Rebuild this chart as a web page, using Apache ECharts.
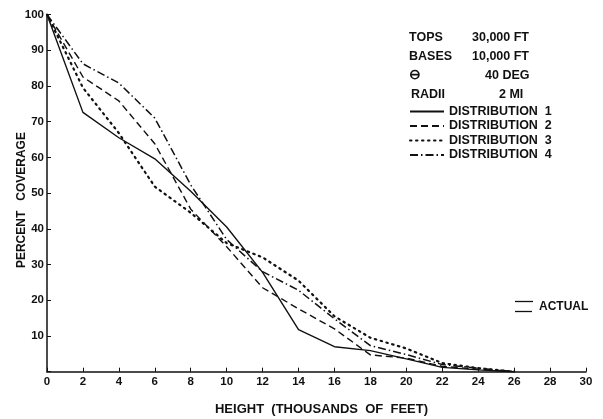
<!DOCTYPE html>
<html><head><meta charset="utf-8">
<script src="https://cdn.jsdelivr.net/npm/echarts@6/dist/echarts.min.js"></script>
<style>html,body{margin:0;padding:0;background:#fff}#c{width:603px;height:419px}</style>
</head><body><div id="c"></div>
<script>
var heights = [0, 2, 4, 6, 8, 10, 12, 14, 16, 18, 20, 22, 24, 26];
var dist1 = [100, 72.6, 65.5, 59.6, 50.5, 40.5, 27.8, 11.8, 7.0, 5.9, 3.6, 1.2, 0.5, 0];
var dist2 = [100, 82.5, 75.8, 63.8, 45.5, 35.0, 23.5, 17.6, 12.0, 4.7, 3.8, 1.5, 0.7, 0];
var dist3 = [100, 79.5, 66.8, 51.8, 44.5, 36.0, 32.0, 25.5, 15.5, 9.5, 6.5, 2.4, 1.0, 0];
var dist4 = [100, 86.2, 80.8, 71.0, 52.3, 37.0, 28.0, 22.8, 14.8, 7.3, 4.8, 2.0, 1.0, 0];
var seriesNames = ['DISTRIBUTION  1', 'DISTRIBUTION  2', 'DISTRIBUTION  3', 'DISTRIBUTION  4'];
var xTicks = [0, 2, 4, 6, 8, 10, 12, 14, 16, 18, 20, 22, 24, 26, 28, 30];
var yTicks = [10, 20, 30, 40, 50, 60, 70, 80, 90, 100];
var infoLeft = ['TOPS', 'BASES', '\u2296', 'RADII'];
var infoRight = ['30,000 FT', '10,000 FT', '40 DEG', '2 MI'];

function pairs(v){ return heights.map(function(h,i){ return [h, v[i]]; }); }
var FONT = 'Liberation Sans';
var lineTypes = ['solid', [7,4], [1.5,4.5], [8,3,1.5,3]];
var lineWidths = [1.4, 1.4, 2.2, 1.5];
var allData = [dist1, dist2, dist3, dist4];

var series = allData.map(function(d, i){
  return {
    name: seriesNames[i], type: 'line', data: pairs(d), symbol: 'none', smooth: false,
    lineStyle: { color: '#111', width: lineWidths[i], type: lineTypes[i], cap: i===2 ? 'round' : 'butt' },
    itemStyle: { color: '#111' }
  };
});

var graphics = [];
infoLeft.forEach(function(t, i){
  graphics.push({ type: 'text', left: i===2 ? 409 : (i===3 ? 411 : 409), top: 31.5 + i*18.7 - (i===2?1:0),
    style: { text: t, font: 'bold ' + (i===2 ? 14 : 12.5) + 'px ' + FONT, fill: '#111' } });
});
var rightX = [472, 472, 485, 499];
infoRight.forEach(function(t, i){
  graphics.push({ type: 'text', left: rightX[i], top: 31.5 + i*18.7,
    style: { text: t, font: 'bold 12.5px ' + FONT, fill: '#111' } });
});
graphics.push({ type: 'line', shape: { x1: 515, y1: 301.5, x2: 533, y2: 301.5 }, style: { stroke: '#111', lineWidth: 1.3 } });
graphics.push({ type: 'line', shape: { x1: 515, y1: 311.5, x2: 532, y2: 311.5 }, style: { stroke: '#111', lineWidth: 1.3 } });
graphics.push({ type: 'text', left: 539, top: 300.5, style: { text: 'ACTUAL', font: 'bold 12px ' + FONT, fill: '#111' } });

var chart = echarts.init(document.getElementById('c'), null, { renderer: 'canvas' });
chart.setOption({
  animation: false,
  backgroundColor: '#fff',
  grid: { left: 47, right: 17, top: 14.5, bottom: 47.3, containLabel: false, outerBoundsMode: 'none' },
  legend: {
    show: true,
    orient: 'vertical', left: 404, top: 100, itemWidth: 34, itemHeight: 12, itemGap: 1.5,
    itemStyle: { opacity: 0 },
    textStyle: { fontFamily: FONT, fontSize: 12.5, fontWeight: 'bold', color: '#111', lineHeight: 13 },
    data: seriesNames
  },
  xAxis: {
    type: 'value', min: 0, max: 30, interval: 2,
    name: 'HEIGHT  (THOUSANDS  OF  FEET)', nameLocation: 'middle', nameGap: 31,
    nameTextStyle: { fontFamily: FONT, fontSize: 13, fontWeight: 'bold', color: '#111', padding: [0,0,0,10] },
    axisLine: { lineStyle: { color: '#111', width: 1.5 } },
    axisTick: { inside: true, length: 4, lineStyle: { color: '#111', width: 1 } },
    axisLabel: { fontFamily: FONT, fontSize: 11.5, fontWeight: 'bold', color: '#111', margin: 4,
      formatter: function(v){ return xTicks.indexOf(v) >= 0 ? String(v) : ''; } },
    splitLine: { show: false }
  },
  yAxis: {
    type: 'value', min: 0, max: 100, interval: 10,
    name: 'PERCENT   COVERAGE', nameLocation: 'middle', nameGap: 19, nameRotate: 90,
    nameMoveOverlap: false,
    nameTextStyle: { fontFamily: FONT, fontSize: 12, fontWeight: 'bold', color: '#111', padding: [0,0,0,-14] },
    axisLine: { show: true, lineStyle: { color: '#111', width: 1.5 } },
    axisTick: { show: true, inside: true, length: 4, lineStyle: { color: '#111', width: 1 } },
    axisLabel: { fontFamily: FONT, fontSize: 11.5, fontWeight: 'bold', color: '#111', margin: 3,
      formatter: function(v){ return yTicks.indexOf(v) >= 0 ? String(v) : ''; } },
    splitLine: { show: false }
  },
  series: series,
  graphic: graphics
});
</script></body></html>
